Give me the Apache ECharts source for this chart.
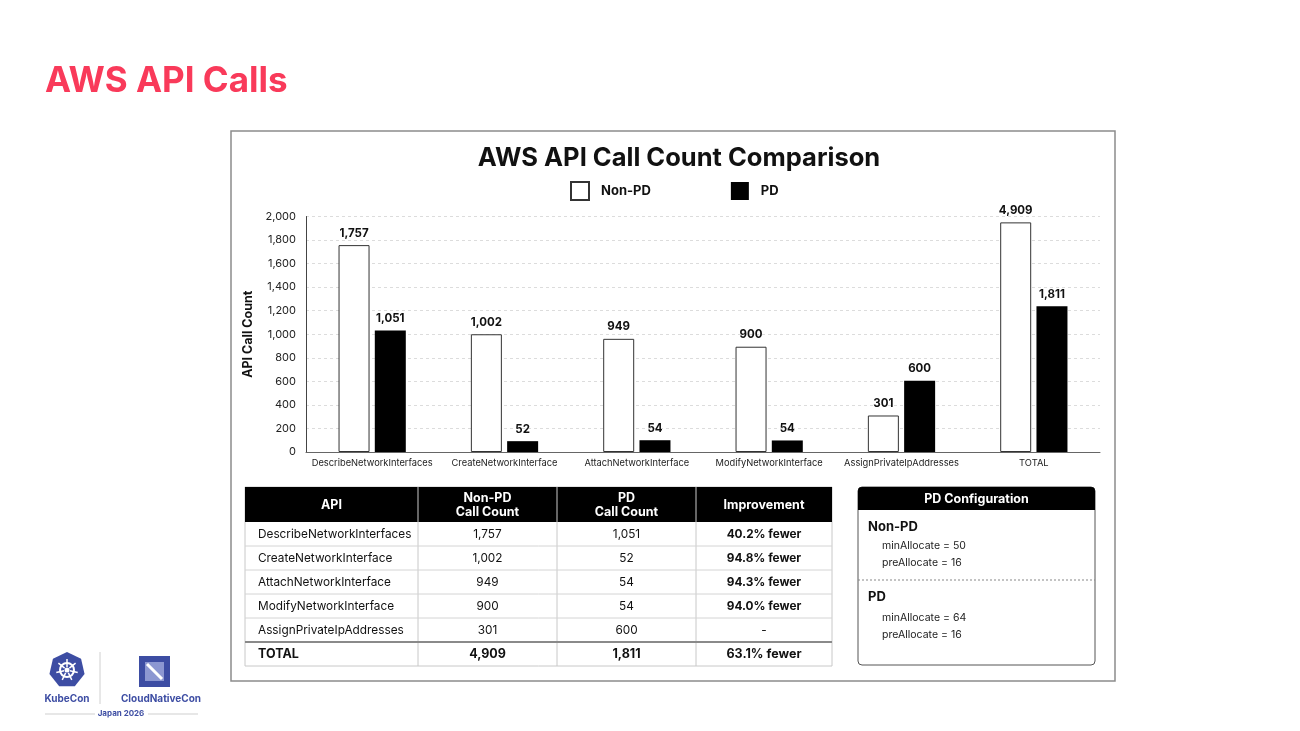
<!DOCTYPE html>
<html><head><meta charset="utf-8">
<script src="https://cdn.jsdelivr.net/npm/echarts@6/dist/echarts.min.js"></script>
<style>html,body{margin:0;padding:0;background:#fff}#c{width:1300px;height:731px}</style>
</head><body><div id="c"></div>
<script>
// ---- data ----
const categories = ['DescribeNetworkInterfaces','CreateNetworkInterface','AttachNetworkInterface','ModifyNetworkInterface','AssignPrivateIpAddresses','TOTAL'];
// bar heights as drawn in the reference chart
const nonPdBarHeights = [1757, 1000, 961, 894, 310, 1950];
const pdBarHeights = [1031, 92, 100, 98, 606, 1237];
// value labels printed above the bars
const nonPdCountLabels = ['1,757','1,002','949','900','301','4,909'];
const pdCountLabels = ['1,051','52','54','54','600','1,811'];
const yMin = 0, yMax = 2000, yInterval = 200;

const tableHeader = ['API','Non-PD\nCall Count','PD\nCall Count','Improvement'];
const tableApis = ['DescribeNetworkInterfaces','CreateNetworkInterface','AttachNetworkInterface','ModifyNetworkInterface','AssignPrivateIpAddresses','TOTAL'];
const tableNonPd = ['1,757','1,002','949','900','301','4,909'];
const tablePd = ['1,051','52','54','54','600','1,811'];
const tableImprovement = ['40.2% fewer','94.8% fewer','94.3% fewer','94.0% fewer','-','63.1% fewer'];

const configTitle = 'PD Configuration';
const configNonPdLines = ['minAllocate = 50','preAllocate = 16'];
const configPdLines = ['minAllocate = 64','preAllocate = 16'];

// ---- layout ----
const FONT = 'Inter, "Noto Sans", sans-serif';
const g = [];
// panel border
g.push({type:'rect', shape:{x:231,y:131,width:884,height:550}, style:{fill:'none',stroke:'#8c8c8c',lineWidth:1.5}, z:-1});

// table
const colX = [245, 418, 557, 696, 832];
const headTop = 487, headH = 35, rowH = 24;
const tableBottom = headTop + headH + rowH * tableApis.length;
g.push({type:'rect', shape:{x:colX[0],y:headTop,width:colX[4]-colX[0],height:tableBottom-headTop}, style:{fill:'#fff',stroke:'#c8c8c8',lineWidth:1}});
g.push({type:'rect', shape:{x:colX[0],y:headTop,width:colX[4]-colX[0],height:headH}, style:{fill:'#000'}});
for (let c = 1; c < 4; c++) {
  g.push({type:'line', shape:{x1:colX[c],y1:headTop,x2:colX[c],y2:tableBottom}, style:{stroke:'#c8c8c8',lineWidth:1}});
  g.push({type:'line', shape:{x1:colX[c],y1:headTop,x2:colX[c],y2:headTop+headH}, style:{stroke:'#666',lineWidth:1}});
}
tableHeader.forEach((t, c) => {
  g.push({type:'text', x:(colX[c]+colX[c+1])/2, y:headTop+headH/2+1,
    style:{text:t, fill:'#fff', font:'bold 12.5px '+FONT, lineHeight:14, align:'center', verticalAlign:'middle'}});
});
tableApis.forEach((api, i) => {
  const top = headTop + headH + i*rowH;
  const cy = top + rowH/2;
  const isTotal = i === tableApis.length - 1;
  if (i > 0) {
    g.push({type:'line', shape:{x1:colX[0],y1:top,x2:colX[4],y2:top},
      style:{stroke: isTotal ? '#8a8a8a' : '#d4d4d4', lineWidth: isTotal ? 2 : 1}});
  }
  const w = isTotal ? 'bold ' : '';
  const fs = isTotal ? '12.5px ' : '11.8px ';
  g.push({type:'text', x:colX[0]+13, y:cy, style:{text:api, fill:'#111', font:w+fs+FONT, align:'left', verticalAlign:'middle'}});
  g.push({type:'text', x:(colX[1]+colX[2])/2, y:cy, style:{text:tableNonPd[i], fill:'#111', font:w+fs+FONT, align:'center', verticalAlign:'middle'}});
  g.push({type:'text', x:(colX[2]+colX[3])/2, y:cy, style:{text:tablePd[i], fill:'#111', font:w+fs+FONT, align:'center', verticalAlign:'middle'}});
  g.push({type:'text', x:(colX[3]+colX[4])/2, y:cy, style:{text:tableImprovement[i], fill:'#111', font:(tableImprovement[i]==='-'?'':'bold ')+(isTotal?'12.5px ':'11.8px ')+FONT, align:'center', verticalAlign:'middle'}});
});

// config box
const bx = 858, by = 487, bw = 237, bh = 178;
g.push({type:'rect', shape:{x:bx,y:by,width:bw,height:bh,r:4}, style:{fill:'#fff',stroke:'#555',lineWidth:1}});
g.push({type:'rect', shape:{x:bx,y:by,width:bw,height:23,r:[4,4,0,0]}, style:{fill:'#000'}});
g.push({type:'text', x:bx+bw/2, y:by+12, style:{text:configTitle, fill:'#fff', font:'bold 12.5px '+FONT, align:'center', verticalAlign:'middle'}});
g.push({type:'text', x:bx+10, y:527, style:{text:'Non-PD', fill:'#111', font:'bold 13px '+FONT, verticalAlign:'middle'}});
configNonPdLines.forEach((t, i) => g.push({type:'text', x:bx+24, y:546+i*17, style:{text:t, fill:'#222', font:'10.5px '+FONT, verticalAlign:'middle'}}));
g.push({type:'line', shape:{x1:bx,y1:580,x2:bx+bw,y2:580}, style:{stroke:'#888',lineWidth:1,lineDash:[2,2]}});
g.push({type:'text', x:bx+10, y:597, style:{text:'PD', fill:'#111', font:'bold 13px '+FONT, verticalAlign:'middle'}});
configPdLines.forEach((t, i) => g.push({type:'text', x:bx+24, y:618+i*17, style:{text:t, fill:'#222', font:'10.5px '+FONT, verticalAlign:'middle'}}));

// logo
const logoBlue = '#3d4da3';
const hept = [];
for (let k = 0; k < 7; k++) { const a = -Math.PI/2 + k*2*Math.PI/7; hept.push([67+18*Math.cos(a), 670+18*Math.sin(a)]); }
g.push({type:'polygon', shape:{points:hept}, style:{fill:logoBlue}});
g.push({type:'circle', shape:{cx:67,cy:670,r:7}, style:{fill:'none',stroke:'#fff',lineWidth:2}});
g.push({type:'circle', shape:{cx:67,cy:670,r:2.5}, style:{fill:'#fff'}});
for (let k = 0; k < 7; k++) { const a = -Math.PI/2 + k*2*Math.PI/7;
  g.push({type:'line', shape:{x1:67+3*Math.cos(a),y1:670+3*Math.sin(a),x2:67+11*Math.cos(a),y2:670+11*Math.sin(a)}, style:{stroke:'#fff',lineWidth:1.5}}); }
g.push({type:'text', x:67, y:699, style:{text:'KubeCon', fill:logoBlue, font:'bold 10px '+FONT, align:'center', verticalAlign:'middle'}});
g.push({type:'line', shape:{x1:100,y1:652,x2:100,y2:704}, style:{stroke:'#d0d0d0',lineWidth:1}});
g.push({type:'rect', shape:{x:139,y:656,width:31,height:31}, style:{fill:logoBlue}});
g.push({type:'rect', shape:{x:145,y:662,width:19,height:19}, style:{fill:'#8c97d1'}});
g.push({type:'line', shape:{x1:147,y1:664,x2:162,y2:679}, style:{stroke:'#fff',lineWidth:3}});
g.push({type:'text', x:161, y:699, style:{text:'CloudNativeCon', fill:logoBlue, font:'bold 10px '+FONT, align:'center', verticalAlign:'middle'}});
g.push({type:'text', x:121, y:714, style:{text:'Japan 2026', fill:logoBlue, font:'bold 8px '+FONT, align:'center', verticalAlign:'middle'}});
g.push({type:'line', shape:{x1:45,y1:714,x2:95,y2:714}, style:{stroke:'#cfcfcf',lineWidth:1}});
g.push({type:'line', shape:{x1:148,y1:714,x2:198,y2:714}, style:{stroke:'#cfcfcf',lineWidth:1}});

const chart = echarts.init(document.getElementById('c'), null, {renderer:'canvas'});
chart.setOption({
  backgroundColor:'#fff',
  animation:false,
  textStyle:{fontFamily:FONT},
  title:[
    {text:'AWS API Calls', left:40, top:59, textStyle:{fontSize:35, fontWeight:'bold', color:'#f93a5a', fontFamily:FONT}},
    {text:'AWS API Call Count Comparison', left:674, textAlign:'center', top:140, textStyle:{fontSize:25.5, fontWeight:'bold', color:'#111', fontFamily:FONT}}
  ],
  legend:{left:565, top:176, itemWidth:18, itemHeight:18, itemGap:80, icon:'rect',
    textStyle:{fontSize:13, fontWeight:'bold', color:'#111', padding:[0,0,0,7], fontFamily:FONT}},
  grid:{left:306, right:200, top:216.5, bottom:279, containLabel:false},
  xAxis:{type:'category', data:categories,
    axisLine:{lineStyle:{color:'#666', width:1}}, axisTick:{show:false},
    axisLabel:{fontSize:9.3, color:'#222', margin:7, interval:0}},
  yAxis:{type:'value', min:yMin, max:yMax, interval:yInterval,
    name:'API Call Count', nameLocation:'middle', nameGap:51,
    nameTextStyle:{fontSize:12.5, fontWeight:'bold', color:'#111'},
    axisLine:{show:true, lineStyle:{color:'#444'}}, axisTick:{show:false},
    axisLabel:{fontSize:11, color:'#222', margin:10, formatter:v => v.toLocaleString('en-US')},
    splitLine:{lineStyle:{color:'#dcdcdc', type:[3,3]}}},
  series:[
    {name:'Non-PD', type:'bar', data:nonPdBarHeights, barWidth:31, barGap:'17%',
      itemStyle:{color:'#fff', borderColor:'#333', borderWidth:1},
      label:{show:true, position:'top', distance:6, fontSize:11.5, fontWeight:'bold', color:'#111',
        formatter:p => nonPdCountLabels[p.dataIndex]}},
    {name:'PD', type:'bar', data:pdBarHeights, barWidth:31,
      itemStyle:{color:'#000'},
      label:{show:true, position:'top', distance:6, fontSize:11.5, fontWeight:'bold', color:'#111',
        formatter:p => pdCountLabels[p.dataIndex]}}
  ],
  graphic:g
});
</script></body></html>
